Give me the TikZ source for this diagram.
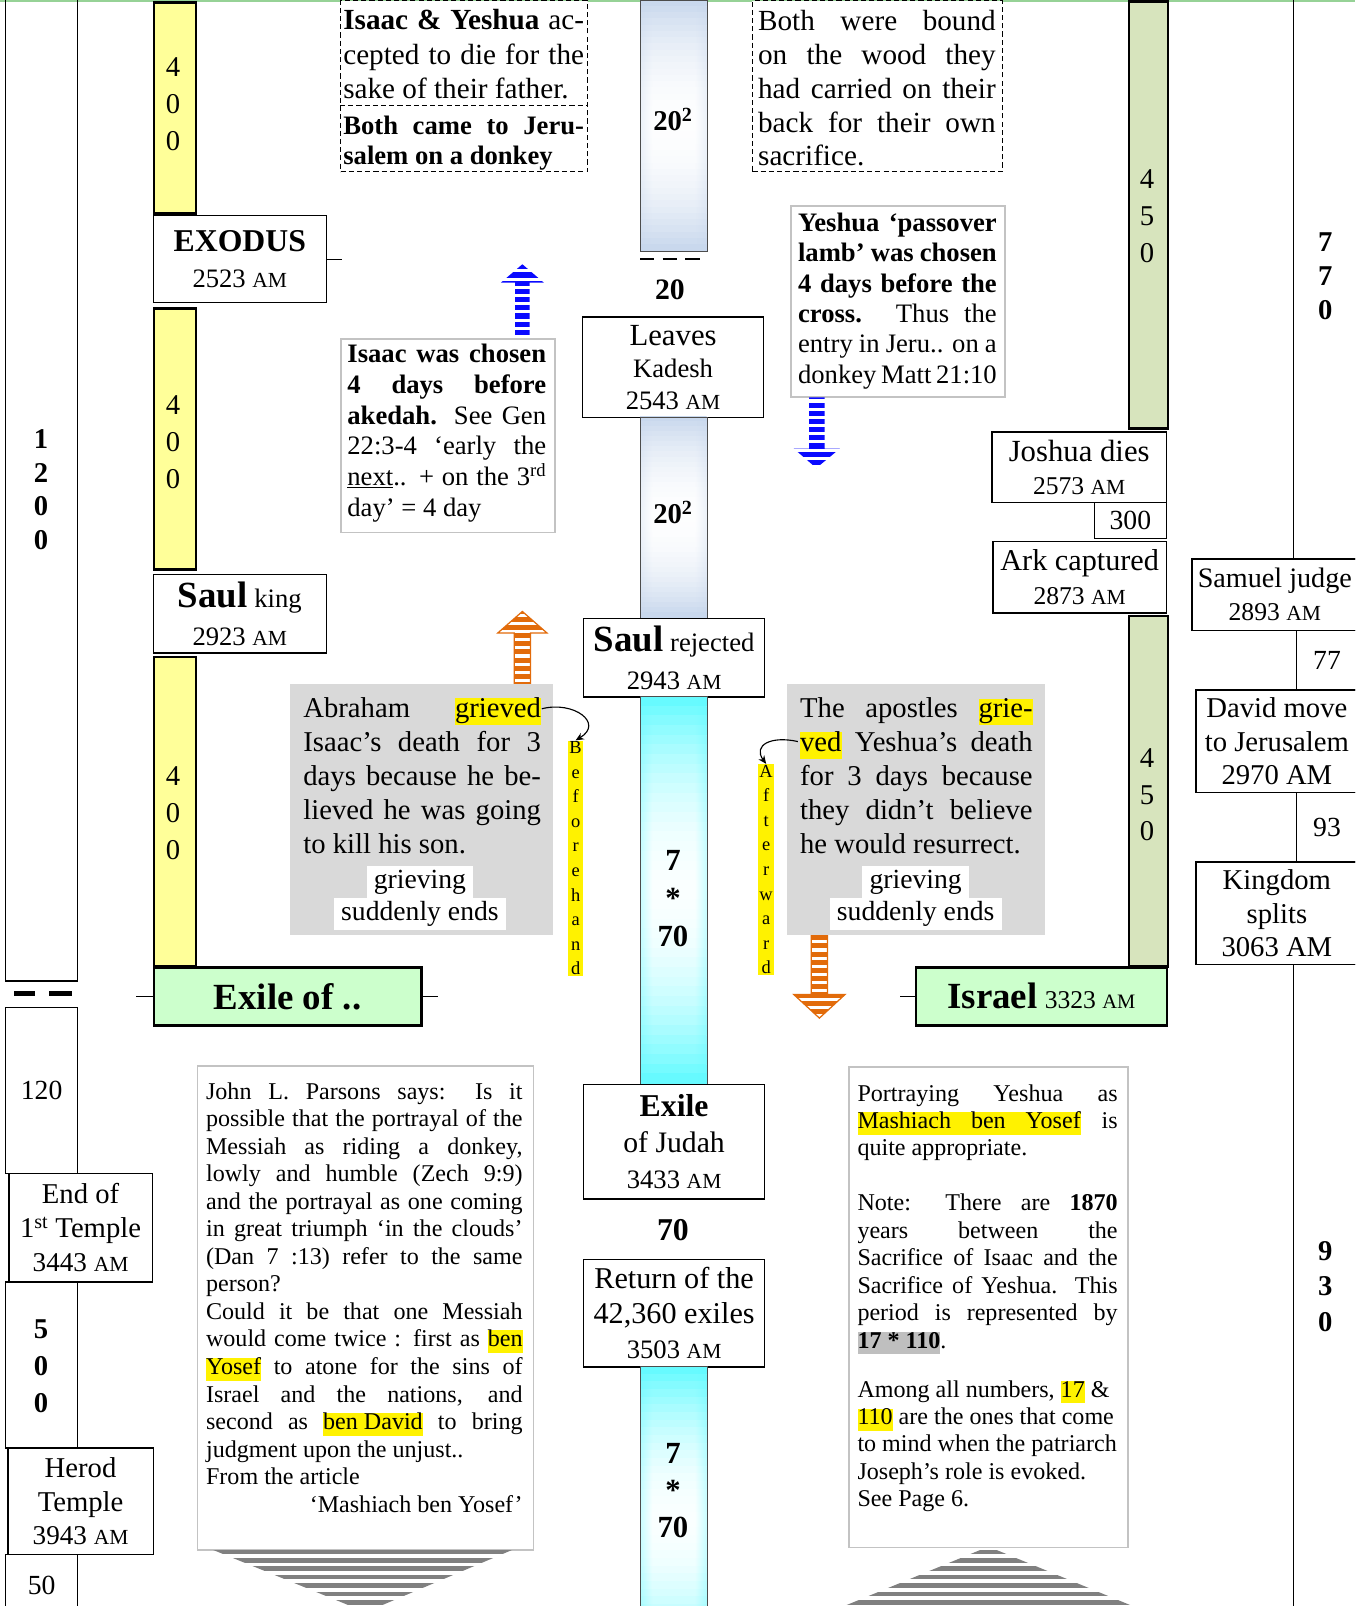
\documentclass[tikz,border=0pt]{standalone}
\usepackage{fontspec}
\setmainfont{Liberation Serif}
\usetikzlibrary{arrows.meta}
\definecolor{cYel}{RGB}{255,255,153}
\definecolor{cOli}{RGB}{215,228,189}
\definecolor{cMint}{RGB}{204,255,204}
\definecolor{cLBlue}{RGB}{198,214,236}
\definecolor{cCyan}{RGB}{95,250,255}
\definecolor{cOrng}{RGB}{226,107,10}
\definecolor{cGBox}{RGB}{217,217,217}
\definecolor{cGBord}{RGB}{195,195,195}
\definecolor{cTopG}{RGB}{150,210,150}
\definecolor{cStripe}{RGB}{128,128,128}
\definecolor{cBlue}{RGB}{10,10,255}
\newcommand\fs[2]{\fontsize{#1}{#2}\selectfont}
\newcommand\J[1]{\makebox[\linewidth][s]{#1}}
\newcommand\hy[1]{{\setlength\fboxsep{0pt}\colorbox{yellow}{\rule[-0.25em]{0pt}{0.85em}#1}}}
\newcommand\hgr[1]{{\setlength\fboxsep{0pt}\colorbox{gray!50}{\rule[-0.25em]{0pt}{0.85em}#1}}}
\newcommand\am[1]{{\fontsize{#1}{#1}\selectfont AM}}
% glowing bar: x y w h colour id
\newcommand\glowbar[6]{%
  \foreach \i in {0,...,39}{%
    \pgfmathsetmacro\tt{abs((\i+0.5)/40-0.5)*2}%
    \pgfmathsetmacro\pp{round(3+97*\tt*\tt)}%
    \colorlet{gcA}{#5!\pp!white}%
    \edef\shname{gs#6x\i}%
    \pgfdeclarehorizontalshading{\shname}{100bp}{color(0bp)=(#5); color(6bp)=(#5); color(34bp)=(gcA); color(66bp)=(gcA); color(94bp)=(#5); color(100bp)=(#5)}%
    \shade[shading=\shname] (#1,{#2+#4*\i/40}) rectangle ({#1+#3},{#2+#4*(\i+1)/40+0.6});
  }}
\tikzset{
  wh/.style 2 args={minimum width=#1pt, minimum height=#2pt},
  datebox/.style={draw, line width=1.3pt, fill=white, align=center, anchor=north west, inner sep=0pt},
  colbox/.style={draw, line width=1.3pt, anchor=north west, inner sep=0pt, align=center},
  ybar/.style={draw, line width=2.6pt, fill=cYel, anchor=north west, inner sep=0pt},
  gbar/.style={draw, line width=2.6pt, fill=cOli, anchor=north west, inner sep=0pt},
  exbox/.style={draw, line width=2.6pt, fill=cMint, anchor=north west, inner sep=0pt},
  barline/.style={draw=black!70, line width=0.8pt, anchor=north west, inner sep=0pt},
  lbl/.style={inner sep=0pt, align=center},
  digits/.style={align=center, inner sep=0pt, font=\fs{28}{36}},
  bdigits/.style={align=center, inner sep=0pt, font=\bfseries\fs{28}{33}},
  dbox/.style={draw, line width=1.3pt, dash pattern=on 5pt off 3pt, anchor=north west, inner sep=0pt},
  note/.style={draw=cGBord, line width=1.8pt, fill=white, anchor=north west, inner sep=0pt},
  gnote/.style={fill=cGBox, anchor=north west, inner sep=0pt},
  para/.style={anchor=base west, inner sep=0pt},
  wlab/.style={fill=white, inner xsep=7pt, inner ysep=0pt, minimum height=31pt, font=\fs{27}{31}},
  vlet/.style={fill=yellow, align=center, inner xsep=1pt, inner ysep=1pt, font=\fs{18}{24}},
  curv/.style={line width=1.1pt, -{Stealth[length=8pt,width=7pt]}},
}
\begin{document}
\begin{tikzpicture}[x=1pt,y=-1pt]
\useasboundingbox (0,0) rectangle (1323,1568);
\clip (0,0) rectangle (1323,1568);
\fill[white] (0,0) rectangle (1323,1568);
\draw[cTopG, line width=1.8pt] (0,0.9) -- (1323,0.9);

% ---------- left column
\node[colbox, wh={70}{960}] (c1200) at (5,-3) {};
\node[bdigits] (n1200) at (40,478) {1\\2\\0\\0};
\draw[line width=4pt] (14,970) -- (34,970) (48,970) -- (70,970);
\node[colbox, wh={70}{162}, font=\fs{27}{30}] (c120) at (5,983) {120};
\node[datebox, wh={140}{106}, font=\fs{28}{33}] (end1) at (8,1145) {End of\\1\textsuperscript{st} Temple\\{\fs{26.5}{33}3443 \am{21}}};
\node[colbox, wh={70}{162}] (c500) at (5,1251) {};
\node[bdigits, font=\bfseries\fs{28}{36.5}] (n500) at (40,1334) {5\\0\\0};
\node[datebox, wh={142}{104}, font=\fs{28}{33}] (herod) at (7,1413) {Herod\\Temple\\{\fs{26.5}{33}3943 \am{21}}};
\node[colbox, wh={70}{60}, font=\fs{27}{30}] (c50) at (5,1517) {50};

% ---------- yellow column
\node[ybar, wh={41}{206}] (y1) at (149,1) {};
\node[digits] (n400a) at (169,102) {4\\0\\0};
\node[datebox, wh={169}{85}, font=\fs{26}{35}] (exodus) at (149,210) {{\bfseries\fs{31}{35}EXODUS}\\2523 \am{21}};
\draw[line width=1.3pt] (exodus.east) -- ++(15,0);
\node[ybar, wh={41}{255}] (y2) at (149,300) {};
\node[digits] (n400b) at (169,432) {4\\0\\0};
\node[datebox, wh={169}{77}, font=\fs{26}{37}] (saulk) at (149,560) {{\bfseries\fs{36}{36}Saul} king\\2923 \am{21}};
\node[ybar, wh={41}{302}] (y3) at (149,640) {};
\node[digits] (n400c) at (169,794) {4\\0\\0};
\node[exbox, wh={261}{57}, font=\bfseries\fs{36}{40}] (exA) at (149,943) {Exile of ..};
\draw[line width=1.3pt] (exA.west) -- ++(-16,0) (exA.east) -- ++(15,0);

% ---------- dashed boxes
\node[dbox, fill=white, wh={241}{167}] (d1) at (332,0) {};
\draw[line width=1.3pt, dash pattern=on 5pt off 3pt] (332,103) -- (573,103);
\node[para] (tIY) at (335,29) {\parbox[t]{235pt}{\fs{28.5}{33.5}\J{\textbf{Isaac \& Yeshua} ac-}\\\J{cepted to die for the}\\sake of their father.}};
\node[para] (tBC) at (335,131) {\parbox[t]{235pt}{\fs{26}{30}\bfseries\J{Both came to Jeru-}\\salem on a donkey}};
\node[dbox, fill=white, wh={244}{167}] (d2) at (734,0) {};
\node[para] (tBW) at (740,30) {\parbox[t]{232pt}{\fs{28.5}{33}\J{Both were bound}\\\J{on the wood they}\\\J{had carried on their}\\\J{back for their own}\\sacrifice.}};

% ---------- central column
\glowbar{625}{0}{65}{245}{cLBlue}{a}
\node[barline, wh={65}{245}] (b1) at (625,0) {};
\node[lbl, font=\bfseries\fs{28}{30}] (b1t) at (657,117) {20\textsuperscript{2}};
\draw[line width=2.5pt, dash pattern=on 14pt off 8pt] (625,253) -- (685,253);
\node[lbl, font=\bfseries\fs{29}{30}] (t20) at (654,283) {20};
\node[datebox, wh={177}{98}, font=\fs{26}{31.5}] (leaves) at (568,309) {{\fs{30}{31.5}Leaves}\\Kadesh\\2543 \am{21}};
\glowbar{625}{407}{65}{196}{cLBlue}{b}
\node[barline, wh={65}{196}] (b2) at (625,407) {};
\node[lbl, font=\bfseries\fs{28}{30}] (b2t) at (657,500) {20\textsuperscript{2}};
\node[datebox, wh={177}{77}, font=\fs{26}{37}] (saulr) at (569,603) {{\bfseries\fs{36}{36}Saul} rejected\\2943 \am{21}};
\glowbar{625}{680}{65}{378}{cCyan}{c}
\node[barline, wh={65}{378}] (cb1) at (625,680) {};
\node[lbl, font=\bfseries\fs{30}{37}] (cb1t) at (657,877) {7\\*\\70};
\node[datebox, wh={177}{112}, font=\fs{29}{35}] (exJ) at (569,1058) {{\bfseries\fs{31}{35}Exile}\\of Judah\\{\fs{26}{35}3433 \am{21}}};
\node[lbl, font=\bfseries\fs{31}{32}] (t70) at (657,1201) {70};
\node[datebox, wh={177}{105}, font=\fs{29.5}{34}] (ret) at (569,1229) {Return of the\\42,360 exiles\\{\fs{26}{34}3503 \am{21}}};
\glowbar{625}{1334}{65}{300}{cCyan}{d}
\node[barline, wh={65}{300}] (cb2) at (625,1334) {};
\node[lbl, font=\bfseries\fs{30}{36}] (cb2t) at (657,1455) {7\\*\\70};

% ---------- green column
\node[gbar, wh={38}{417}] (g1) at (1101,0) {};
\node[digits] (n450a) at (1120,211) {4\\5\\0};
\node[datebox, wh={170}{69}, font=\fs{30}{32}] (josh) at (968,421) {Joshua dies\\{\fs{25}{32}2573 \am{21}}};
\node[colbox, wh={70}{35}, font=\fs{27}{30}] (c300) at (1068,490) {300};
\node[datebox, wh={169}{70}, font=\fs{29.5}{33}] (ark) at (969,528) {Ark captured\\{\fs{25}{33}2873 \am{21}}};
\node[gbar, wh={38}{342}] (g2) at (1101,600) {};
\node[digits] (n450b) at (1120,776) {4\\5\\0};
\node[exbox, wh={245}{57}, font=\fs{28}{40}] (isr) at (893,943) {{\bfseries\fs{36}{40}Israel} {\fs{25}{30}3323 \am{20}}};
\draw[line width=1.3pt] (isr.west) -- ++(-14,0);

% ---------- far right column
\node[colbox, wh={70}{548}] (c770) at (1262,-3) {};
\node[bdigits] (n770) at (1294,270) {7\\7\\0};
\node[datebox, wh={162}{70}, font=\fs{27.5}{32}] (sam) at (1163,545) {Samuel judge\\{\fs{25}{32}2893 \am{21}}};
\node[colbox, wh={60}{58}, font=\fs{27}{30}] (c77) at (1265,615) {77};
\node[datebox, wh={158}{100}, font=\fs{28}{33}] (dav) at (1167,673) {David move\\to Jerusalem\\2970 AM};
\node[colbox, wh={60}{68}, font=\fs{27}{30}] (c93) at (1265,773) {93};
\node[datebox, wh={158}{100}, font=\fs{28}{33}] (kng) at (1167,841) {Kingdom\\splits\\3063 AM};
\node[colbox, wh={70}{640}] (c930) at (1262,941) {};
\node[bdigits, font=\bfseries\fs{28}{34.5}] (n930) at (1294,1256) {9\\3\\0};

% ---------- note boxes
\node[note, wh={209}{189}] (nIC) at (332,330) {};
\node[para] (tIC) at (339,354) {\parbox[t]{194pt}{\fs{26}{30}\J{\textbf{Isaac was chosen}}\\\J{\textbf{4 days before}}\\\J{\textbf{akedah.} See Gen}\\\J{22:3-4 ‘early the}\\\J{\underline{next}.. + on the 3\textsuperscript{rd}}\\day’ = 4 day}};
\node[note, wh={209}{187}] (nYP) at (771,200) {};
\node[para] (tYP) at (779,226) {\parbox[t]{194pt}{\fs{26}{29.6}\J{\textbf{Yeshua ‘passover}}\\\J{\textbf{lamb’ was chosen}}\\\J{\textbf{4 days before the}}\\\J{\textbf{cross.} Thus the}\\\J{entry in Jeru.. on a}\\donkey Matt 21:10}};

% ---------- striped arrows
\begin{scope}
\clip (503,327) -- (503,276) -- (489,276) -- (510,258) -- (531,276) -- (517,276) -- (517,327) -- cycle;
\foreach \k in {0,...,9} \fill[cBlue] (480,{258+8*\k}) rectangle (540,{263+8*\k});
\end{scope}
\begin{scope}
\clip (790,388) -- (790,438) -- (775,438) -- (797,457) -- (820,438) -- (805,438) -- (805,388) -- cycle;
\foreach \k in {0,...,9} \fill[cBlue] (770,{385+8*\k}) rectangle (825,{390+8*\k});
\end{scope}
\begin{scope}
\clip (502,667) -- (502,618) -- (486,618) -- (510,597) -- (534,618) -- (518,618) -- (518,667) -- cycle;
\foreach \k in {0,...,9} \fill[cOrng] (480,{594+8*\k}) rectangle (540,{599+8*\k});
\end{scope}
\draw[cOrng, line width=1.2pt] (502,667) -- (502,618) -- (486,618) -- (510,597) -- (534,618) -- (518,618) -- (518,667) -- cycle;
\begin{scope}
\clip (792,913) -- (792,971) -- (775,971) -- (800,994) -- (825,971) -- (808,971) -- (808,913) -- cycle;
\foreach \k in {0,...,10} \fill[cOrng] (770,{913+8*\k}) rectangle (830,{918+8*\k});
\end{scope}
\draw[cOrng, line width=1.2pt] (792,913) -- (792,971) -- (775,971) -- (800,994) -- (825,971) -- (808,971) -- (808,913) -- cycle;

% ---------- grey grieving boxes
\node[gnote, wh={257}{245}] (gA) at (283,668) {};
\node[para] (tA) at (296,701) {\parbox[t]{232pt}{\fs{28}{33}\J{Abraham \hy{grieved}}\\\J{Isaac’s death for 3}\\\J{days because he be-}\\\J{lieved he was going}\\to kill his son.}};
\node[wlab] (gA1) at (410,861) {grieving};
\node[wlab] (gA2) at (410,892) {suddenly ends};
\node[gnote, wh={252}{245}] (gB) at (768,668) {};
\node[para] (tB) at (781,701) {\parbox[t]{227pt}{\fs{28}{33}\J{The apostles \hy{grie-}}\\\J{\hy{ved} Yeshua’s death}\\\J{for 3 days because}\\\J{they didn’t believe}\\he would resurrect.}};
\node[wlab] (gB1) at (894,861) {grieving};
\node[wlab] (gB2) at (894,892) {suddenly ends};

\node[vlet] (before) at (562,838) {B\\e\\f\\o\\r\\e\\h\\a\\n\\d};
\node[vlet] (after) at (748,849) {A\\f\\t\\e\\r\\w\\a\\r\\d};
\coordinate (grvd) at (529,692);
\draw[curv] (grvd) .. controls (560,684) and (590,706) .. (before.north);
\coordinate (ved) at (779,724);
\draw[curv] (ved) .. controls (752,718) and (735,728) .. (after.north);

% ---------- bottom notes
\node[note, wh={328}{472}] (nJP) at (192,1040) {};
\node[para] (tJP) at (201,1073) {\parbox[t]{309pt}{\fs{23.5}{26.9}\J{John L. Parsons says: Is it}\\\J{possible that the portrayal of the}\\\J{Messiah as riding a donkey,}\\\J{lowly and humble (Zech 9:9)}\\\J{and the portrayal as one coming}\\\J{in great triumph ‘in the clouds’}\\\J{(Dan 7 :13) refer to the same}\\person?\\\J{Could it be that one Messiah}\\\J{would come twice : first as \hy{ben}}\\\J{\hy{Yosef} to atone for the sins of}\\\J{Israel and the nations, and}\\\J{second as \hy{ben David} to bring}\\judgment upon the unjust..\\From the article\\\makebox[\linewidth][r]{‘Mashiach ben Yosef’}}};
\node[note, wh={272}{469}] (nPY) at (828,1041) {};
\node[para] (tPY) at (837,1075) {\parbox[t]{254pt}{\fs{23.5}{26.8}\J{Portraying Yeshua as}\\\J{\hy{\makebox[218pt][s]{Mashiach ben Yosef}} is}\\quite appropriate.\\\mbox{}\\\J{Note: There are \textbf{1870}}\\\J{years between the}\\\J{Sacrifice of Isaac and the}\\\J{Sacrifice of Yeshua. This}\\\J{period is represented by}\\\hgr{\textbf{17 * 110}}.\\[21pt]Among all numbers, \hy{17} \&\\\hy{110} are the ones that come\\to mind when the patriarch\\Joseph’s role is evoked.\\See Page 6.}};

% ---------- striped grey shapes under notes
\begin{scope}
\clip (205,1512) -- (503,1512) -- (357,1574) -- cycle;
\foreach \k in {0,...,8} \fill[cStripe] (200,{1513+8.2*\k}) rectangle (510,{1517.5+8.2*\k});
\end{scope}
\begin{scope}
\clip (965,1510) -- (1113,1571) -- (817,1571) -- cycle;
\foreach \k in {0,...,7} \fill[cStripe] (800,{1513+8.2*\k}) rectangle (1130,{1517.5+8.2*\k});
\end{scope}
\end{tikzpicture}
\end{document}
